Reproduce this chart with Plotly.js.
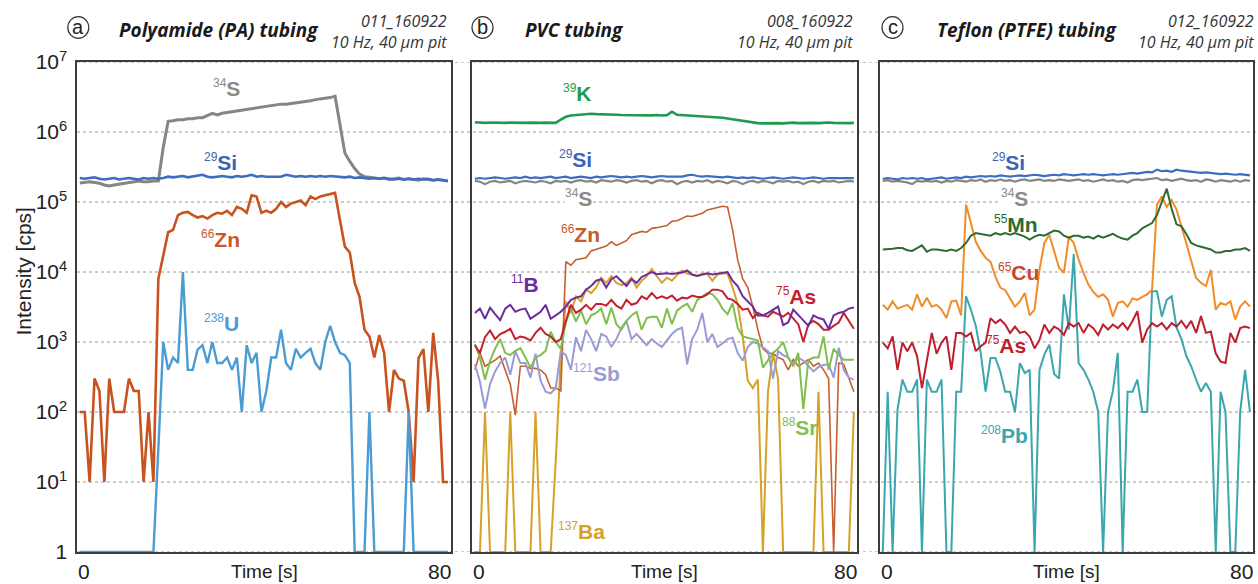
<!DOCTYPE html>
<html><head><meta charset="utf-8">
<script src="https://cdn.plot.ly/plotly-3.0.1.min.js"></script>
<style>html,body{margin:0;padding:0;background:#fff}#chart{width:1258px;height:584px}</style>
</head><body><div id="chart"></div>
<script>
// ---- sampling times [s] ----
const time = [0.6,1.65,2.7,3.75,4.8,5.85,6.9,7.95,9,10.05,11.1,12.15,13.2,14.25,15.3,16.35,17.4,18.45,19.5,20.55,21.6,22.65,23.7,24.75,25.8,26.85,27.9,28.95,30,31.05,32.1,33.15,34.2,35.25,36.3,37.35,38.4,39.45,40.5,41.55,42.6,43.65,44.7,45.75,46.8,47.85,48.9,49.95,51,52.05,53.1,54.15,55.2,56.25,57.3,58.35,59.4,60.45,61.5,62.55,63.6,64.65,65.7,66.75,67.8,68.85,69.9,70.95,72,73.05,74.1,75.15,76.2,77.25,78.3,79.35];

// ---- panel a: Polyamide (PA) tubing ----
const aS = [1.87e5,1.9e5,1.95e5,1.9e5,1.85e5,1.75e5,1.7e5,1.75e5,1.8e5,1.85e5,1.9e5,1.95e5,2e5,1.95e5,1.95e5,2e5,2e5,6e5,1.42e6,1.45e6,1.5e6,1.5e6,1.55e6,1.55e6,1.6e6,1.6e6,1.7e6,1.85e6,1.75e6,1.85e6,1.9e6,1.95e6,2e6,2.05e6,2.1e6,2.15e6,2.2e6,2.3e6,2.35e6,2.4e6,2.45e6,2.5e6,2.5e6,2.55e6,2.6e6,2.7e6,2.75e6,2.8e6,2.9e6,2.95e6,3.0e6,3.1e6,3.25e6,1.2e6,5e5,3.8e5,3e5,2.5e5,2.3e5,2.25e5,2.2e5,2.15e5,2.2e5,2.1e5,2.15e5,2.2e5,2.1e5,2.15e5,2.1e5,2.05e5,2.15e5,2.1e5,2.05e5,2.1e5,2.05e5,2e5];
const aSi = [2.2e5,2.15e5,2.2e5,2.25e5,2.15e5,2.1e5,2.15e5,2.2e5,2.1e5,2.15e5,2.2e5,2.15e5,2.1e5,2.2e5,2.15e5,2.2e5,2.15e5,2.2e5,2.3e5,2.25e5,2.3e5,2.35e5,2.25e5,2.3e5,2.35e5,2.45e5,2.3e5,2.25e5,2.3e5,2.35e5,2.3e5,2.25e5,2.35e5,2.3e5,2.35e5,2.45e5,2.3e5,2.35e5,2.3e5,2.3e5,2.35e5,2.3e5,2.45e5,2.35e5,2.3e5,2.35e5,2.3e5,2.35e5,2.3e5,2.35e5,2.3e5,2.35e5,2.3e5,2.3e5,2.25e5,2.3e5,2.2e5,2.25e5,2.2e5,2.15e5,2.2e5,2.15e5,2.2e5,2.15e5,2.1e5,2.15e5,2.1e5,2.15e5,2.1e5,2.15e5,2.1e5,2.15e5,2.05e5,2.1e5,2.05e5,2.0e5];
const aZn = [100,100,10,300,200,10,300,100,100,100,300,200,200,10,100,10,8000,1.8e4,3.7e4,4e4,6.5e4,7e4,7.2e4,6.5e4,6e4,6.3e4,5.8e4,6.5e4,7e4,6.8e4,7.5e4,6.5e4,8.5e4,8e4,7e4,1.25e5,1.2e5,7e4,7.5e4,7e4,8e4,1e5,8.5e4,9.5e4,1e5,1.05e5,9e4,1.2e5,1.1e5,1.2e5,1.25e5,1.3e5,1.35e5,5.5e4,2.3e4,1.9e4,7e3,4.4e3,1.5e3,1.2e3,600,1250,700,100,400,300,280,100,10,590,790,100,1350,280,10,10];
const aU = [1,1,1,1,1,1,1,1,1,1,1,1,1,1,1,1,30,1000,400,600,500,1e4,400,400,780,900,500,1000,500,500,600,400,600,100,900,500,700,100,200,600,600,1500,500,400,800,600,700,800,500,400,1000,1700,1000,700,650,500,1,1,1,100,1,1,1,1,1,1,1,100,1,1,1,1,1,1,1,1];

// ---- panel b: PVC tubing ----
const bK = [1.38e6,1.36e6,1.35e6,1.37e6,1.36e6,1.34e6,1.35e6,1.36e6,1.35e6,1.33e6,1.35e6,1.36e6,1.34e6,1.35e6,1.36e6,1.34e6,1.35e6,1.5e6,1.65e6,1.72e6,1.75e6,1.78e6,1.8e6,1.82e6,1.8e6,1.78e6,1.8e6,1.78e6,1.76e6,1.75e6,1.74e6,1.73e6,1.75e6,1.72e6,1.74e6,1.73e6,1.75e6,1.72e6,1.74e6,1.95e6,1.76e6,1.74e6,1.72e6,1.7e6,1.71e6,1.7e6,1.68e6,1.66e6,1.64e6,1.6e6,1.56e6,1.52e6,1.48e6,1.43e6,1.39e6,1.36e6,1.34e6,1.33e6,1.34e6,1.35e6,1.34e6,1.33e6,1.35e6,1.36e6,1.34e6,1.35e6,1.36e6,1.35e6,1.34e6,1.36e6,1.37e6,1.35e6,1.34e6,1.35e6,1.34e6,1.35e6];
const bSi = [2.15e5,2.2e5,2.15e5,2.2e5,2.25e5,2.2e5,2.15e5,2.2e5,2.25e5,2.2e5,2.3e5,2.2e5,2.25e5,2.2e5,2.25e5,2.3e5,2.2e5,2.25e5,2.3e5,2.2e5,2.25e5,2.3e5,2.25e5,2.2e5,2.3e5,2.25e5,2.3e5,2.35e5,2.3e5,2.25e5,2.3e5,2.25e5,2.3e5,2.35e5,2.3e5,2.25e5,2.3e5,2.35e5,2.3e5,2.3e5,2.35e5,2.3e5,2.4e5,2.45e5,2.35e5,2.3e5,2.35e5,2.3e5,2.3e5,2.25e5,2.3e5,2.25e5,2.2e5,2.25e5,2.2e5,2.25e5,2.2e5,2.15e5,2.2e5,2.25e5,2.2e5,2.15e5,2.2e5,2.25e5,2.2e5,2.15e5,2.2e5,2.25e5,2.2e5,2.15e5,2.2e5,2.2e5,2.15e5,2.2e5,2.15e5,2.2e5];
const bS = [2.0e5,1.95e5,1.8e5,1.95e5,2.0e5,1.9e5,1.95e5,2.0e5,1.85e5,1.95e5,2.0e5,1.95e5,1.9e5,2.0e5,1.95e5,1.85e5,2.0e5,1.95e5,2.0e5,1.9e5,2.0e5,2.05e5,1.95e5,2.0e5,1.9e5,2.05e5,2.0e5,1.95e5,2.05e5,2.0e5,1.9e5,2.0e5,2.05e5,1.95e5,2.0e5,1.85e5,2.0e5,2.05e5,1.95e5,2.0e5,1.8e5,1.95e5,2.0e5,1.9e5,2.0e5,1.95e5,2.05e5,1.9e5,2.0e5,1.95e5,1.85e5,2.0e5,1.95e5,1.8e5,1.95e5,2.0e5,1.9e5,2.0e5,1.95e5,1.85e5,2.0e5,1.95e5,2.0e5,1.9e5,1.95e5,1.8e5,1.95e5,2.0e5,1.9e5,2.0e5,1.95e5,2.0e5,1.9e5,1.95e5,2.0e5,1.95e5];
const bZn = [400,700,450,500,550,630,400,250,90,450,450,420,420,400,340,220,220,200,1.4e4,1.25e4,1.5e4,1.55e4,1.6e4,2e4,2.1e4,2.2e4,2.35e4,2.7e4,2.4e4,2.6e4,2.8e4,3.4e4,3.6e4,3.8e4,3.7e4,4.2e4,4.3e4,4.4e4,4.6e4,5.3e4,5.4e4,5.8e4,6.3e4,6.2e4,6.6e4,6.9e4,7.7e4,8e4,8.5e4,8.7e4,8.5e4,4e4,1.5e4,8e3,6e3,3.2e3,1.5e3,800,690,690,600,560,400,560,450,500,560,450,500,400,300,1,500,480,300,195];
const bB = [2.6e3,3e3,2.15e3,3.1e3,2.5e3,2.05e3,3e3,3.4e3,2.7e3,2.9e3,3e3,2.15e3,2.4e3,2.7e3,3.4e3,2.15e3,2.4e3,2.7e3,3.2e3,4e3,4.3e3,4.5e3,5.6e3,6.3e3,7.5e3,7.9e3,6e3,7.9e3,8.7e3,7.5e3,6.3e3,7.9e3,7e3,8.5e3,9.3e3,1e4,9.3e3,9.5e3,9.6e3,9.4e3,9.6e3,9.8e3,1.05e4,9.2e3,8.8e3,9.2e3,9.6e3,9.2e3,9.4e3,9.6e3,1e4,7.5e3,6.3e3,4.5e3,3.8e3,3.2e3,2.4e3,2.4e3,2.6e3,2.9e3,3.2e3,1.75e3,1.9e3,2.9e3,2.4e3,2e3,1.7e3,2.4e3,2.2e3,2.1e3,1.55e3,2.4e3,2.6e3,2.7e3,3e3,3.1e3];
const bAs = [900,700,1170,1460,1100,1300,1400,1550,1100,1200,1150,1050,1350,1600,1300,1200,1000,1100,2000,3400,2600,2900,3400,2900,3500,3500,3300,4000,3300,3000,4000,3400,3600,4500,4100,5000,4200,4500,4200,4600,3900,4300,4200,4600,4400,4400,4800,5600,5600,5300,4200,4000,3500,2900,3000,2200,2600,2400,2300,2700,2500,2300,2600,2200,1800,1000,1800,2000,1800,1500,1500,1700,1900,2600,2000,1550];
const bSr = [930,600,290,540,800,1100,700,650,750,820,600,430,600,650,750,1400,1000,800,1900,3000,1950,2800,1800,2400,2600,3000,1800,3100,1800,1500,2000,2400,2700,1500,2200,2300,2300,1600,3000,1800,2800,3200,3500,2700,4000,4500,5000,4800,4000,3000,2500,3600,1600,1200,1150,1100,1050,430,560,700,800,1000,600,450,700,110,550,600,600,1200,400,800,650,560,560,560];
const bSb = [480,270,112,250,380,500,600,340,740,500,500,310,680,280,195,185,220,740,650,400,1170,740,1480,1100,740,1300,1200,850,1100,1600,2000,1100,1300,1100,900,1100,950,850,1050,1300,1500,1600,480,1100,1500,2600,1000,1300,850,950,1100,1150,700,540,850,1000,950,850,740,300,740,650,600,480,600,540,450,380,440,470,480,310,830,400,310,290];
const bBa = [1,1,100,1,1,1,1,100,1,1,1,1,100,1,1,1,20,600,3800,2600,4500,3800,5600,5000,6000,8300,7000,8700,7000,6500,7000,8300,6000,7500,8700,11000,8700,7000,8300,7500,9000,10500,9500,9200,8800,9500,9400,7500,9200,9500,9500,6000,3500,1200,280,220,290,1,195,690,300,1,1,1,1,1,1,1,195,1,1,1,1,1,1,100];

// ---- panel c: Teflon (PTFE) tubing ----
const cSi = [2.15e5,2.2e5,2.15e5,2.1e5,2.2e5,2.15e5,2.2e5,2.15e5,2.2e5,2.1e5,2.15e5,2.2e5,2.25e5,2.15e5,2.2e5,2.25e5,2.2e5,2.3e5,2.25e5,2.3e5,2.35e5,2.3e5,2.35e5,2.3e5,2.4e5,2.35e5,2.3e5,2.35e5,2.4e5,2.35e5,2.4e5,2.45e5,2.4e5,2.35e5,2.4e5,2.45e5,2.4e5,2.5e5,2.45e5,2.4e5,2.45e5,2.5e5,2.45e5,2.5e5,2.45e5,2.4e5,2.45e5,2.5e5,2.45e5,2.5e5,2.55e5,2.6e5,2.55e5,2.6e5,2.7e5,2.65e5,2.9e5,2.75e5,2.8e5,2.7e5,2.9e5,2.8e5,2.75e5,2.7e5,2.65e5,2.6e5,2.65e5,2.6e5,2.55e5,2.5e5,2.55e5,2.5e5,2.45e5,2.5e5,2.45e5,2.4e5];
const cS = [2.0e5,2.05e5,1.95e5,2.0e5,1.95e5,1.9e5,1.8e5,2.0e5,1.95e5,2.0e5,1.95e5,2.0e5,1.9e5,2.0e5,1.95e5,2.05e5,2.0e5,1.95e5,2.05e5,2.0e5,2.1e5,1.95e5,2.05e5,2.0e5,2.1e5,2.0e5,2.05e5,1.95e5,2.05e5,2.1e5,2.0e5,2.05e5,2.1e5,2.0e5,2.05e5,2.0e5,2.1e5,2.05e5,2.0e5,2.05e5,2.1e5,2.0e5,2.05e5,1.95e5,2.05e5,2.1e5,2.0e5,2.05e5,1.95e5,2.0e5,1.9e5,2.05e5,2.1e5,2.05e5,2.1e5,2.15e5,2.2e5,2.05e5,2.1e5,2.0e5,2.1e5,2.15e5,2.05e5,2.0e5,2.05e5,1.95e5,2.1e5,2.05e5,1.95e5,2.05e5,2.0e5,1.95e5,2.05e5,1.95e5,2.05e5,2.0e5];
const cMn = [2.1e4,2.1e4,2.15e4,2.2e4,2.2e4,2.05e4,2e4,2.2e4,2.4e4,1.95e4,2.1e4,2.1e4,2.05e4,2e4,2.1e4,2e4,2.2e4,2.6e4,3.3e4,3.6e4,3.5e4,3.4e4,3.3e4,3.6e4,3.4e4,3.6e4,3.4e4,3.6e4,3.4e4,3.2e4,2.9e4,3.2e4,3.4e4,3.3e4,3.6e4,3.9e4,3.8e4,3.3e4,3.1e4,3.3e4,3.3e4,3.1e4,3.2e4,3e4,3.3e4,3.1e4,3.3e4,3.5e4,3.2e4,3e4,2.9e4,3.3e4,3.6e4,4.2e4,4.6e4,5e4,6.5e4,1e5,1.55e5,8e4,4.8e4,4.5e4,3.5e4,2.6e4,2.4e4,2.3e4,2.2e4,2.1e4,1.9e4,1.9e4,2e4,2e4,2.1e4,2.1e4,2.2e4,2e4];
const cCu = [3.4e3,2.9e3,3.8e3,3e3,3.2e3,3.4e3,2.9e3,4.8e3,3.2e3,4.3e3,3.2e3,3.4e3,2.9e3,2.2e3,3.8e3,3.9e3,2.4e3,9.2e4,5e4,2.7e4,2e4,1.6e4,1.4e4,8.6e3,6e3,5.5e3,4.2e3,3.2e3,3.8e3,5e3,2.4e3,2.9e3,1.07e4,2.6e4,3.4e4,1.9e4,1.15e4,9.7e3,3.2e4,2.6e4,1.5e4,9.7e3,6.6e3,5.2e3,4.4e3,4.8e3,4e3,2.3e3,3.6e3,3.8e3,3.2e3,4.2e3,4e3,4.4e3,4.8e3,5.6e3,9.1e4,1.2e5,8.5e4,1.07e5,7.8e4,4.5e4,2.5e4,1.35e4,8.2e3,7e3,6.3e3,1.07e4,2.9e3,3.6e3,3.4e3,3.8e3,2.1e3,3.2e3,3.8e3,3.2e3];
const cAs = [980,810,1200,400,980,740,980,630,220,560,1350,680,980,1200,400,1350,1350,1200,1350,740,870,980,2190,1860,2090,1780,1350,1660,1350,1410,1200,810,1070,1780,1350,1660,1510,1260,1860,1660,1860,1350,1780,1580,1260,1780,1510,1780,1580,1860,1510,2000,2750,980,1510,1860,1660,1860,1510,1860,1660,2000,1580,2000,1350,2340,1350,1410,690,525,500,1350,980,1580,1660,1580];
const cPb = [1,195,1,107,290,195,195,290,1,290,195,195,290,1,1,195,195,4500,2900,1700,700,195,590,590,380,195,195,100,500,360,400,1,400,660,915,350,300,4800,1500,1.8e4,500,400,290,195,100,1,100,200,700,1,195,195,290,100,100,5300,5300,2300,4000,4500,1600,1100,630,450,290,195,260,195,1,195,100,1,1,100,400,100];

// ---- axis ticks ----
const yTickVals = [1,10,100,1000,1e4,1e5,1e6,1e7];
const yTickText = ['1','10<sup>1</sup>','10<sup>2</sup>','10<sup>3</sup>','10<sup>4</sup>','10<sup>5</sup>','10<sup>6</sup>','10<sup>7</sup>'];
const xTickVals = [0,80];
const xTickText = ['0','80'];

// ---- layout helpers ----
const W = 1258, H = 584;
const px = x => x / W, py = y => 1 - y / H;
const ARIAL = 'Liberation Sans, Arial, sans-serif';
const TITLEF = 'Open Sans, Noto Sans, sans-serif';

function tr(xa, ya, y, color, width) {
  return {type:'scatter', mode:'lines', x: time, y: y, xaxis: xa, yaxis: ya,
          line:{color: color, width: width}, hoverinfo:'skip', showlegend:false};
}
const traces = [
  tr('x','y',aS,'#858585',3), tr('x','y',aSi,'#3d6cc0',2.6), tr('x','y',aZn,'#c8531f',2.6), tr('x','y',aU,'#4b9cd3',2.4),
  tr('x2','y2',bS,'#858585',2.2), tr('x2','y2',bSi,'#3d6cc0',2.2), tr('x2','y2',bK,'#1f9a4e',2.6),
  tr('x2','y2',bBa,'#d6a128',2), tr('x2','y2',bZn,'#c65f30',1.6), tr('x2','y2',bSb,'#9a9bd6',2),
  tr('x2','y2',bSr,'#7fbf4f',2), tr('x2','y2',bAs,'#c5202f',2), tr('x2','y2',bB,'#6b2c9f',2),
  tr('x3','y3',cPb,'#3aa6ad',2), tr('x3','y3',cAs,'#bd1f2f',2), tr('x3','y3',cCu,'#f28c28',2),
  tr('x3','y3',cMn,'#2f6b30',2), tr('x3','y3',cS,'#858585',2.2), tr('x3','y3',cSi,'#3d6cc0',2.2)
];

function xax(dom, anchor) {
  return {domain: dom, anchor: anchor, range:[0,80], showline:true, mirror:true, linecolor:'#3c3c3c', linewidth:1.6,
          showgrid:false, zeroline:false, tickvals: xTickVals, ticktext: xTickText, showticklabels:false, ticks:'',
          layer:'below traces', fixedrange:true};
}
function yax(anchor, labels) {
  return {domain:[py(552), py(62)], anchor: anchor, type:'log', range:[0,7], showline:true, mirror:true,
          linecolor:'#3c3c3c', linewidth:1.6, showgrid:false, zeroline:false, tickvals: yTickVals, ticktext: yTickText,
          showticklabels: labels, ticks:'outside', ticklen:4, tickcolor:'rgba(0,0,0,0)',
          tickfont:{family:ARIAL, size:21, color:'#222'}, layer:'below traces', fixedrange:true};
}

// gridlines spanning all panels
const shapes = yTickVals.map(v => ({type:'line', xref:'paper', yref:'y', x0: px(77), x1: 1, y0: v, y1: v,
  line:{color:'#9a9a9a', width:1, dash:'dot'}, layer:'below'}));
// circled panel letters
[[78.3,27.5],[482.5,27.5],[892.5,27.5]].forEach(c => shapes.push({type:'circle', xref:'paper', yref:'paper',
  x0: px(c[0]-10.5), x1: px(c[0]+10.5), y0: py(c[1]+10.8), y1: py(c[1]-10.8), line:{color:'#333', width:1.2}}));

const ann = [];
function lab(xr, yr, mass, el, x, ylog, color, bg) {
  ann.push({xref: xr, yref: yr, x: x, y: ylog,
    text: '<sup><span style="font-size:12px">' + mass + '</span></sup><b>' + el + '</b>', showarrow:false,
    font:{family:ARIAL, size:21, color: color}, xanchor:'center', yanchor:'middle',
    bgcolor: bg ? 'rgba(255,255,255,1)' : 'rgba(0,0,0,0)', borderpad: 0});
}
lab('x','y','34','S',31.9,6.63,'#8a8a8a');
lab('x','y','29','Si',30.8,5.57,'#3b64b4');
lab('x','y','66','Zn',30.6,4.47,'#c9582a');
lab('x','y','238','U',31,3.27,'#4d9bd4');
lab('x2','y2','39','K',22,6.56,'#1e9c4c');
lab('x2','y2','29','Si',21.6,5.61,'#3b64b4');
lab('x2','y2','34','S',22.2,5.06,'#8a8a8a',true);
lab('x2','y2','66','Zn',22.5,4.54,'#c9582a');
lab('x2','y2','11','B',11,3.83,'#6b2c9f');
lab('x2','y2','75','As',67.4,3.66,'#c5202f');
lab('x2','y2','121','Sb',25.8,2.56,'#9a9bd6');
lab('x2','y2','88','Sr',68.2,1.79,'#82c055');
lab('x2','y2','137','Ba',22.7,0.3,'#d6a128');
lab('x3','y3','29','Si',27.5,5.57,'#3b64b4');
lab('x3','y3','34','S',28.8,5.06,'#8a8a8a',true);
lab('x3','y3','55','Mn',29.2,4.69,'#2f6b30');
lab('x3','y3','65','Cu',29.6,4.0,'#c54a2a');
lab('x3','y3','75','As',27,2.96,'#bd1f2f');
lab('x3','y3','208','Pb',26.8,1.67,'#3aa6ad');

// x tick labels (0 at left edge, 80 at right edge of each panel)
['x','x2','x3'].forEach(a => {
  xTickVals.forEach((v, i) => ann.push({xref: a, yref:'paper', x: v, y: py(571), text: xTickText[i], showarrow:false,
    xanchor: i === 0 ? 'left' : 'right', xshift: i === 0 ? 0 : 1, yanchor:'middle', borderpad:0,
    font:{family:ARIAL, size:21, color:'#222'}}));
  ann.push({xref: a + ' domain', yref:'paper', x:0.5, y: py(571), text:'Time [s]', borderpad:0,
    showarrow:false, xanchor:'center', yanchor:'middle', font:{family:ARIAL, size:19, color:'#222'}});
});

// panel headers
const headers = [
  {c:78.3, letter:'a', title:'Polyamide (PA) tubing', tx:117, id:'011_160922', rx:449},
  {c:482.5, letter:'b', title:'PVC tubing', tx:523, id:'008_160922', rx:855},
  {c:892.5, letter:'c', title:'Teflon (PTFE) tubing', tx:935, id:'012_160922', rx:1256}
];
headers.forEach(h => {
  ann.push({xref:'paper', yref:'paper', x: px(h.c), y: py(27.5), text: h.letter, showarrow:false,
    xanchor:'center', yanchor:'middle', font:{family:ARIAL, size:20, color:'#222'}});
  ann.push({xref:'paper', yref:'paper', x: px(h.tx), y: py(30), text: h.title, showarrow:false,
    xanchor:'left', yanchor:'middle', font:{family:TITLEF, size:19, color:'#1a1a1a', weight:'bold', style:'italic'}});
  ann.push({xref:'paper', yref:'paper', x: px(h.rx), y: py(31), text: h.id + '<br>10 Hz, 40 µm pit', showarrow:false,
    xanchor:'right', yanchor:'middle', align:'right', font:{family:TITLEF, size:16, color:'#333', style:'italic'}});
});
ann.push({xref:'paper', yref:'paper', x: px(22.5), y: py(272), text:'Intensity [cps]', textangle:-90, showarrow:false,
  xanchor:'center', yanchor:'middle', font:{family:ARIAL, size:21, color:'#222'}});

const layout = {
  width: W, height: H, autosize:false, margin:{l:0, r:0, t:0, b:0, pad:0},
  paper_bgcolor:'#ffffff', plot_bgcolor:'rgba(0,0,0,0)', showlegend:false,
  xaxis: xax([px(77), px(451)], 'y'), xaxis2: xax([px(472), px(857)], 'y2'), xaxis3: xax([px(880), px(1253)], 'y3'),
  yaxis: yax('x', true), yaxis2: yax('x2', false), yaxis3: yax('x3', false),
  shapes: shapes, annotations: ann
};
Plotly.newPlot('chart', traces, layout, {staticPlot:true, displayModeBar:false});
</script></body></html>
